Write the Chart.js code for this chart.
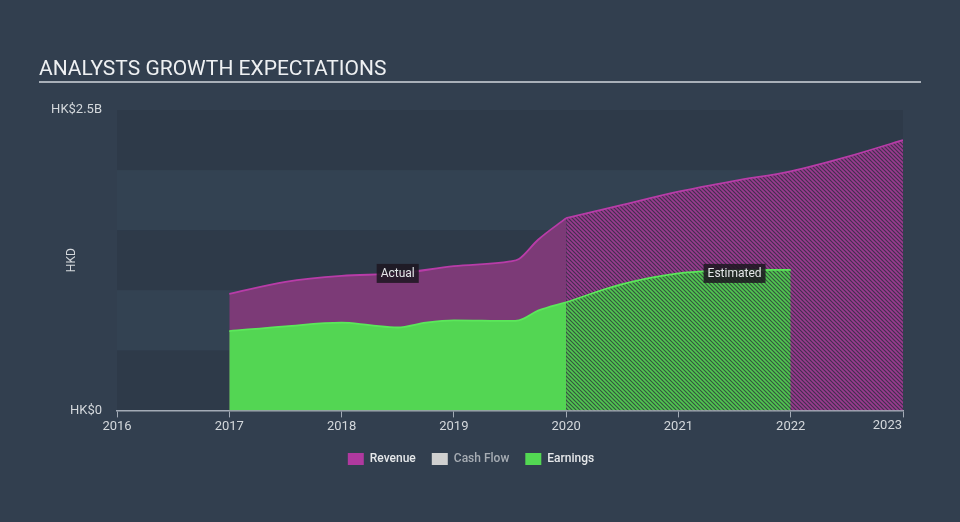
<!DOCTYPE html>
<html>
<head>
<meta charset="utf-8">
<script src="https://cdn.jsdelivr.net/npm/chart.js@4"></script>
<style>
  html, body { margin: 0; padding: 0; background: #323f4f; }
  #wrap { width: 960px; height: 522px; }
</style>
</head>
<body>
<div id="wrap"><canvas id="grafica" width="960" height="522"></canvas></div>
<script type="text/javascript">

    // Años (x) y montos en miles de millones HKD (y)
    var revenueActualX = [2017.0, 2017.5, 2018.0, 2018.5, 2019.0, 2019.5, 2019.58, 2019.75, 2020.0]
    var revenueActualY = [0.97, 1.07, 1.12, 1.14, 1.20, 1.24, 1.26, 1.42, 1.60]
    var revenueEstX = [2020.0, 2020.5, 2021.0, 2021.5, 2022.0, 2022.5, 2023.0]
    var revenueEstY = [1.60, 1.71, 1.82, 1.91, 1.99, 2.11, 2.25]

    var earningsActualX = [2017.0, 2017.5, 2018.0, 2018.25, 2018.5, 2018.75, 2019.0, 2019.5, 2019.58, 2019.75, 2020.0]
    var earningsActualY = [0.66, 0.70, 0.73, 0.71, 0.69, 0.73, 0.75, 0.745, 0.75, 0.83, 0.90]
    var earningsEstX = [2020.0, 2020.5, 2021.0, 2021.5, 2022.0]
    var earningsEstY = [0.90, 1.05, 1.14, 1.165, 1.17]

    var legendNames = ["Revenue", "Cash Flow", "Earnings"]
    var legendColors = ["#b0399f", "#d0d0d0", "#53d853"]
    var yTicks = [0, 2.5]
    var yTickLabels = ["HK$0", "HK$2.5B"]
    var xMin = 2016
    var xMax = 2023

    function puntos(xs, ys) {
        return xs.map(function (x, i) { return { x: x, y: ys[i] } })
    }

    function rayado(base, linea) {
        let c = document.createElement('canvas')
        c.width = 4
        c.height = 4
        let g = c.getContext('2d')
        g.fillStyle = base
        g.fillRect(0, 0, 4, 4)
        g.strokeStyle = linea
        g.lineWidth = 1.6
        g.beginPath()
        g.moveTo(-1, -1); g.lineTo(5, 5)
        g.moveTo(-1, 3); g.lineTo(1, 5)
        g.moveTo(3, -1); g.lineTo(5, 1)
        g.stroke()
        return g.createPattern(c, 'repeat')
    }

    var canvas = document.getElementById('grafica')
    var context = canvas.getContext('2d')

    var patronRevenue = rayado('#43304f', '#9a3a8f')
    var patronEarnings = rayado('#36563f', '#50c850')

    // Fondo: bandas, titulo y etiquetas Actual / Estimated
    var fondo = {
        id: 'fondo',
        beforeDraw: function (chart) {
            let ctx = chart.ctx
            let a = chart.chartArea
            let y = chart.scales.y
            ctx.save()
            ctx.fillStyle = '#2e3a49'
            for (let v = 0; v < 2.5; v += 1.0) {
                let top = y.getPixelForValue(v + 0.5)
                let bot = y.getPixelForValue(v)
                ctx.fillRect(a.left, top, a.right - a.left, bot - top)
            }
            ctx.fillStyle = '#334252'
            ctx.fillRect(a.left, y.getPixelForValue(2.0), a.right - a.left, y.getPixelForValue(1.5) - y.getPixelForValue(2.0))
            ctx.fillRect(a.left, y.getPixelForValue(1.0), a.right - a.left, y.getPixelForValue(0.5) - y.getPixelForValue(1.0))
            // titulo
            ctx.fillStyle = '#eef0f2'
            ctx.font = '21px Roboto'
            ctx.textBaseline = 'alphabetic'
            ctx.textAlign = 'left'
            ctx.fillText('ANALYSTS GROWTH EXPECTATIONS', 39, 75)
            ctx.fillStyle = '#a9b0b9'
            ctx.fillRect(39, 81, 882, 2)
            ctx.restore()
        },
        afterDatasetsDraw: function (chart) {
            let ctx = chart.ctx
            let x = chart.scales.x
            let y = chart.scales.y
            let yl = y.getPixelForValue(1.14)
            let etiquetas = [
                ['Actual', (x.getPixelForValue(2017) + x.getPixelForValue(2020)) / 2],
                ['Estimated', (x.getPixelForValue(2020) + x.getPixelForValue(2023)) / 2]
            ]
            ctx.save()
            ctx.font = '12px Roboto'
            ctx.textAlign = 'center'
            ctx.textBaseline = 'middle'
            etiquetas.forEach(function (e) {
                let w = ctx.measureText(e[0]).width + 8
                ctx.fillStyle = 'rgba(28, 22, 32, 0.85)'
                ctx.fillRect(e[1] - w / 2, yl - 9.5, w, 19)
                ctx.fillStyle = '#e4e6e8'
                ctx.fillText(e[0], e[1], yl + 0.5)
            })
            // ultima etiqueta del eje x alineada a la derecha
            ctx.font = '13px Roboto'
            ctx.fillStyle = '#d4d8dc'
            ctx.textAlign = 'right'
            ctx.textBaseline = 'top'
            ctx.fillText(String(xMax), x.getPixelForValue(xMax) - 1, chart.chartArea.bottom + 9)
            ctx.restore()
        }
    }

    var datos = {
        datasets: [{
            label: "Revenue",
            data: puntos(revenueActualX, revenueActualY),
            borderColor: "#b83ca8",
            backgroundColor: "#7c3a77",
            fill: 'origin',
            order: 2
        }, {
            label: "Revenue est",
            data: puntos(revenueEstX, revenueEstY),
            borderColor: "#b83ca8",
            backgroundColor: patronRevenue,
            fill: 'origin',
            order: 2
        }, {
            label: "Earnings",
            data: puntos(earningsActualX, earningsActualY),
            borderColor: "#5be85a",
            backgroundColor: "#53d653",
            fill: 'origin',
            order: 1
        }, {
            label: "Earnings est",
            data: puntos(earningsEstX, earningsEstY),
            borderColor: "#5be85a",
            backgroundColor: patronEarnings,
            fill: 'origin',
            order: 1
        }]
    }

    Chart.defaults.font.family = 'Roboto'

    window.grafica = new Chart(context, {
        type: 'line',
        data: datos,
        plugins: [fondo],
        options: {
            responsive: false,
            animation: false,
            layout: { padding: { top: 110, left: 39, right: 57, bottom: 47 } },
            elements: {
                point: { radius: 0 },
                line: { borderWidth: 1.8, cubicInterpolationMode: 'monotone' }
            },
            plugins: {
                tooltip: { enabled: false },
                legend: {
                    position: 'bottom',
                    labels: {
                        boxWidth: 16,
                        boxHeight: 12,
                        padding: 16,
                        font: { size: 12, weight: '500' },
                        generateLabels: function () {
                            return legendNames.map(function (n, i) {
                                return {
                                    text: n,
                                    fillStyle: legendColors[i],
                                    strokeStyle: legendColors[i],
                                    lineWidth: 0,
                                    fontColor: i == 1 ? '#a7adb4' : '#e6e8ea',
                                    hidden: false,
                                    datasetIndex: i
                                }
                            })
                        }
                    },
                    onClick: function () {}
                }
            },
            scales: {
                x: {
                    type: 'linear',
                    min: xMin,
                    max: xMax,
                    afterBuildTicks: function (s) {
                        s.ticks = []
                        for (let v = xMin; v <= xMax; v++) s.ticks.push({ value: v })
                    },
                    afterFit: function (s) { s.height = 26.6 },
                    ticks: {
                        color: '#d4d8dc',
                        font: { size: 13 },
                        padding: 2,
                        maxRotation: 0,
                        callback: function (v) { return v == xMax ? '' : String(v) }
                    },
                    grid: {
                        drawOnChartArea: false,
                        drawTicks: true,
                        tickLength: 7,
                        color: '#a3abb6'
                    },
                    border: { display: true, color: '#a3abb6', width: 1.5 }
                },
                y: {
                    min: 0,
                    max: 2.5,
                    afterBuildTicks: function (s) {
                        s.ticks = yTicks.map(function (v) { return { value: v } })
                    },
                    afterFit: function (s) { s.width = 78 },
                    ticks: {
                        color: '#d4d8dc',
                        font: { size: 13 },
                        padding: 15,
                        callback: function (v) { return yTickLabels[yTicks.indexOf(v)] }
                    },
                    grid: { display: false, drawTicks: false },
                    border: { display: false },
                    title: {
                        display: true,
                        text: 'HKD',
                        color: '#d4d8dc',
                        font: { size: 12 },
                        padding: { top: 26 }
                    }
                }
            }
        }
    })

</script>
</body>
</html>
